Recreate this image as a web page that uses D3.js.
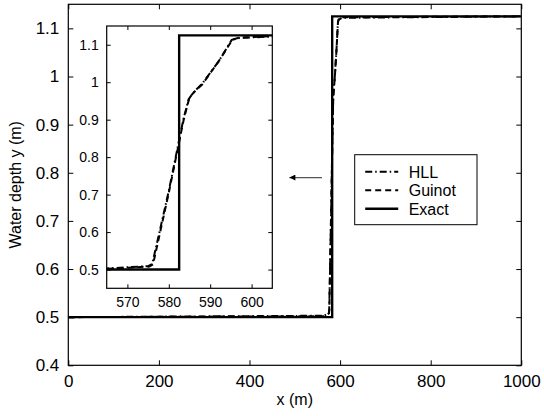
<!DOCTYPE html>
<html>
<head>
<meta charset="utf-8">
<script src="https://cdn.jsdelivr.net/npm/d3@7"></script>
<style>
  body { margin: 0; background: #fff; }
  svg { display: block; font-family: "Liberation Sans", Arial, sans-serif; }
</style>
</head>
<body>
<div id="chart"></div>
<script>
// data
var exactX = [0, 582.5, 582.5, 1000]
var exactY = [0.5, 0.5, 1.125, 1.125]

var hllX = [0, 565, 570, 575, 576, 580, 583.5, 584.8, 586.2, 588, 592, 595.2, 597, 605, 1000]
var hllY = [0.5, 0.503, 0.506, 0.509, 0.515, 0.71, 0.9, 0.955, 0.976, 0.995, 1.055, 1.113, 1.118, 1.122, 1.125]

var guinotX = [0, 565, 570, 575.3, 576.2, 580, 583.6, 585, 586.5, 588, 592, 595.4, 597, 605, 1000]
var guinotY = [0.5, 0.502, 0.505, 0.508, 0.514, 0.705, 0.9, 0.96, 0.978, 0.993, 1.055, 1.114, 1.119, 1.123, 1.125]

var mainXTicks = [0, 200, 400, 600, 800, 1000]
var mainYTicks = [0.4, 0.5, 0.6, 0.7, 0.8, 0.9, 1, 1.1]
var insetXTicks = [570, 580, 590, 600]
var insetYTicks = [0.5, 0.6, 0.7, 0.8, 0.9, 1, 1.1]

var legendNames = ["HLL", "Guinot", "Exact"]

var W = 544, H = 416

var svg = d3.select("#chart")
  .append("svg")
    .attr("width", W)
    .attr("height", H)

// main axes box
var box = {left: 68.3, right: 521.3, top: 4.3, bottom: 365.3}
var x = d3.scaleLinear().domain([0, 1000]).range([box.left, box.right])
var y = d3.scaleLinear().domain([0.4, 1.15]).range([box.bottom, box.top])

// inset box
var ibox = {left: 106.7, right: 272.3, top: 26, bottom: 288.3}
var ix = d3.scaleLinear().domain([565, 605]).range([ibox.left, ibox.right])
var iy = d3.scaleLinear().domain([0.45, 1.15]).range([ibox.bottom, ibox.top])

function pts(xs, ys) {
  return xs.map(function(v, i) { return [v, ys[i]] })
}

var styles = [
  {name: "HLL", data: pts(hllX, hllY), dash: "7,3,1.5,3", width: 2},
  {name: "Guinot", data: pts(guinotX, guinotY), dash: "6,4", width: 2},
  {name: "Exact", data: pts(exactX, exactY), dash: null, width: 2.4}
]

function drawAxes(g, sx, sy, xt, yt, fs, tickLen) {
  var r = sx.range(), d = sy.range()
  g.append("rect")
    .attr("x", r[0]).attr("y", d[1])
    .attr("width", r[1] - r[0]).attr("height", d[0] - d[1])
    .attr("fill", "#fff")
    .attr("stroke", "#000")
    .attr("stroke-width", 1.2)

  // bottom / top ticks, inward
  var axB = d3.axisBottom(sx).tickValues(xt).tickSize(-tickLen).tickPadding(tickLen + 5)
    .tickFormat(d3.format("d"))
  var gb = g.append("g").attr("transform", "translate(0," + d[0] + ")").call(axB)
  var axT = d3.axisTop(sx).tickValues(xt).tickSize(-tickLen).tickFormat("")
  var gt = g.append("g").attr("transform", "translate(0," + d[1] + ")").call(axT)

  var axL = d3.axisLeft(sy).tickValues(yt).tickSize(-tickLen).tickPadding(tickLen + 4)
    .tickFormat(function(v) { return d3.format("")(+v.toFixed(2)) })
  var gl = g.append("g").attr("transform", "translate(" + r[0] + ",0)").call(axL)
  var axR = d3.axisRight(sy).tickValues(yt).tickSize(-tickLen).tickFormat("")
  var gr = g.append("g").attr("transform", "translate(" + r[1] + ",0)").call(axR)

  ;[gb, gt, gl, gr].forEach(function(a) {
    a.select(".domain").remove()
    a.selectAll("line").attr("stroke", "#000")
    a.selectAll("text")
      .attr("font-size", fs)
      .attr("fill", "#000")
      .attr("font-family", "Liberation Sans, Arial, sans-serif")
  })
}

function drawLines(g, sx, sy, clipId) {
  var line = d3.line()
    .x(function(d) { return sx(d[0]) })
    .y(function(d) { return sy(d[1]) })
  styles.forEach(function(s) {
    g.append("path")
      .datum(s.data)
      .attr("d", line)
      .attr("fill", "none")
      .attr("stroke", "#000")
      .attr("stroke-width", s.width)
      .attr("stroke-dasharray", s.dash)
      .attr("clip-path", "url(#" + clipId + ")")
  })
}

// clip paths
var defs = svg.append("defs")
defs.append("clipPath").attr("id", "clipMain")
  .append("rect")
    .attr("x", box.left).attr("y", box.top)
    .attr("width", box.right - box.left).attr("height", box.bottom - box.top)
defs.append("clipPath").attr("id", "clipInset")
  .append("rect")
    .attr("x", ibox.left).attr("y", ibox.top)
    .attr("width", ibox.right - ibox.left).attr("height", ibox.bottom - ibox.top)

var gMain = svg.append("g")
drawAxes(gMain, x, y, mainXTicks, mainYTicks, 17, 5)
drawLines(gMain, x, y, "clipMain")

// axis titles
svg.append("text")
  .attr("x", (box.left + box.right) / 2)
  .attr("y", 405)
  .attr("text-anchor", "middle")
  .attr("font-size", 16)
  .text("x (m)")

svg.append("text")
  .attr("transform", "translate(21," + (box.top + box.bottom) / 2 + ") rotate(-90)")
  .attr("text-anchor", "middle")
  .attr("font-size", 16)
  .text("Water depth y (m)")

// inset
var gInset = svg.append("g")
drawAxes(gInset, ix, iy, insetXTicks, insetYTicks, 14, 4)
drawLines(gInset, ix, iy, "clipInset")

// arrow pointing at the inset
defs.append("marker")
    .attr("id", "arrowHead")
    .attr("viewBox", "0 0 10 10")
    .attr("refX", 10).attr("refY", 5)
    .attr("markerWidth", 7).attr("markerHeight", 6)
    .attr("markerUnits", "userSpaceOnUse")
    .attr("orient", "auto")
  .append("path")
    .attr("d", "M0,0 L10,5 L0,10 z")
    .attr("fill", "#000")

svg.append("line")
  .attr("x1", x(560)).attr("y1", y(0.79))
  .attr("x2", x(488)).attr("y2", y(0.79))
  .attr("stroke", "#555")
  .attr("stroke-width", 1.2)
  .attr("marker-end", "url(#arrowHead)")

// legend
var leg = svg.append("g")
var lb = {x: 354.7, y: 154.7, w: 122.3, h: 70}
leg.append("rect")
  .attr("x", lb.x).attr("y", lb.y)
  .attr("width", lb.w).attr("height", lb.h)
  .attr("fill", "#fff")
  .attr("stroke", "#000")
  .attr("stroke-width", 1)

styles.forEach(function(s, i) {
  var cy = lb.y + 17 + i * 18.5
  leg.append("line")
    .attr("x1", lb.x + 10.5).attr("x2", lb.x + 43.5)
    .attr("y1", cy).attr("y2", cy)
    .attr("stroke", "#000")
    .attr("stroke-width", s.width)
    .attr("stroke-dasharray", s.dash)
  leg.append("text")
    .attr("x", lb.x + 54)
    .attr("y", cy + 6)
    .attr("font-size", 16)
    .text(legendNames[i])
})
</script>
</body>
</html>
